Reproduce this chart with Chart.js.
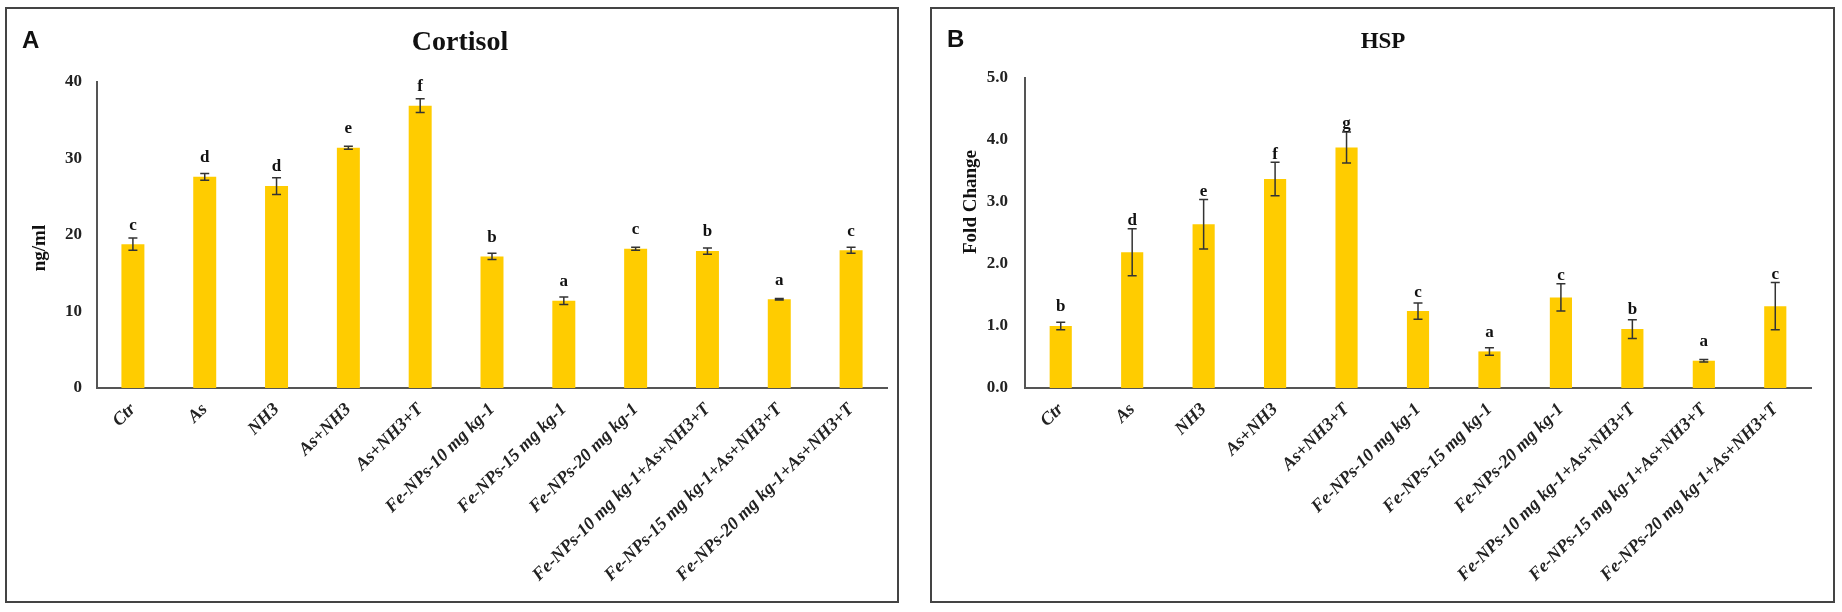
<!DOCTYPE html>
<html>
<head>
<meta charset="utf-8">
<script src="https://cdn.jsdelivr.net/npm/chart.js@4.4.1/dist/chart.umd.min.js"></script>
<style>
  body { margin: 0; background: #fff; width: 1842px; height: 612px; position: relative; overflow: hidden; }
  .panel { position: absolute; border: 2px solid #444; box-sizing: border-box; }
  .panel .wrap { position: absolute; left: 0; top: 0; right: 0; bottom: 0; }
  .tag { position: absolute; font-family: "Liberation Sans", Arial, sans-serif; font-weight: bold; font-size: 24px; color: #111; }
  .ttl { position: absolute; font-family: "Liberation Serif", "Times New Roman", serif; font-weight: bold; color: #111;
         white-space: nowrap; transform: translateX(-50%); }
  .ytl { position: absolute; font-family: "Liberation Serif", "Times New Roman", serif; font-weight: bold; font-size: 19px;
         color: #111; white-space: nowrap; line-height: 1; transform: translate(-50%, -50%) rotate(-90deg); }
</style>
</head>
<body>
<div class="panel" style="left:5px; top:7px; width:894px; height:596px;">
  <div class="wrap"><canvas id="cortisolChart"></canvas></div>
</div>
<div class="panel" style="left:930px; top:7px; width:905px; height:596px;">
  <div class="wrap"><canvas id="hspChart"></canvas></div>
</div>
<div class="tag" style="left:22px; top:26px;">A</div>
<div class="tag" style="left:947px; top:25px;">B</div>
<div class="ttl" style="left:460px; top:27px; font-size:28px; line-height:28px;">Cortisol</div>
<div class="ttl" style="left:1383px; top:29px; font-size:23px; line-height:23px;">HSP</div>
<div class="ytl" style="left:38px; top:248px;">ng/ml</div>
<div class="ytl" style="left:969px; top:202px;">Fold Change</div>

<script>
// categorias comunes a los dos paneles
const categories = [
  "Ctr", "As", "NH3", "As+NH3", "As+NH3+T",
  "Fe-NPs-10 mg kg-1", "Fe-NPs-15 mg kg-1", "Fe-NPs-20 mg kg-1",
  "Fe-NPs-10 mg kg-1+As+NH3+T", "Fe-NPs-15 mg kg-1+As+NH3+T", "Fe-NPs-20 mg kg-1+As+NH3+T"
];

// Panel A - Cortisol (ng/ml)
const cortisolMeans = [18.8, 27.6, 26.4, 31.4, 36.9, 17.2, 11.4, 18.2, 17.9, 11.6, 18.0];
const cortisolErr = [0.8, 0.45, 1.1, 0.2, 0.9, 0.4, 0.5, 0.2, 0.4, 0.1, 0.4];
const cortisolLetters = ["c", "d", "d", "e", "f", "b", "a", "c", "b", "a", "c"];

// Panel B - HSP (fold change)
const hspMeans = [1.0, 2.19, 2.64, 3.37, 3.88, 1.24, 0.59, 1.46, 0.95, 0.44, 1.32];
const hspErr = [0.06, 0.38, 0.4, 0.27, 0.25, 0.13, 0.06, 0.22, 0.15, 0.02, 0.38];
const hspLetters = ["b", "d", "e", "f", "g", "c", "a", "c", "b", "a", "c"];

const SERIF = '"Liberation Serif", "Times New Roman", serif';
const BAR = "#FFCC00";
const AXIS = "#555";

// barras de error + letras de significancia
const errorBarsPlugin = {
  id: "errorBars",
  afterDatasetsDraw(chart, args, opts) {
    const { ctx } = chart;
    const meta = chart.getDatasetMeta(0);
    const y = chart.scales.y;
    ctx.save();
    meta.data.forEach((bar, i) => {
      const v = opts.means[i];
      const e = opts.errors[i];
      const yTop = y.getPixelForValue(v + e);
      const yBot = y.getPixelForValue(v - e);
      const x = bar.x;
      ctx.strokeStyle = "#333";
      ctx.lineWidth = 1.5;
      ctx.beginPath();
      ctx.moveTo(x, yTop); ctx.lineTo(x, yBot);
      ctx.moveTo(x - 4.5, yTop); ctx.lineTo(x + 4.5, yTop);
      ctx.moveTo(x - 4.5, yBot); ctx.lineTo(x + 4.5, yBot);
      ctx.stroke();

      const barTop = y.getPixelForValue(v);
      const ly = Math.min(barTop - 19, yTop - 8);
      ctx.fillStyle = "#111";
      ctx.font = "bold 17px " + SERIF;
      ctx.textAlign = "center";
      ctx.textBaseline = "middle";
      ctx.fillText(opts.letters[i], x, ly);
    });
    ctx.restore();
  },
};

function makeChart(id, cfg) {
  return new Chart(document.getElementById(id), {
    type: "bar",
    data: {
      labels: categories,
      datasets: [{
        data: cfg.means,
        backgroundColor: BAR,
        borderWidth: 0,
        categoryPercentage: 1,
        barPercentage: cfg.barPct,
      }],
    },
    plugins: [errorBarsPlugin],
    options: {
      responsive: true,
      maintainAspectRatio: false,
      animation: false,
      devicePixelRatio: 1,
      layout: { padding: { left: 0, right: cfg.padRight, top: cfg.padTop, bottom: 0 } },
      plugins: {
        legend: { display: false },
        tooltip: { enabled: false },
        title: { display: false },
        errorBars: { means: cfg.means, errors: cfg.errors, letters: cfg.letters },
      },
      scales: {
        x: {
          grid: { display: false },
          border: { display: true, color: AXIS, width: 2 },
          ticks: {
            color: "#222",
            maxRotation: 45,
            minRotation: 45,
            autoSkip: false,
            padding: 3,
            font: { family: SERIF, size: 18, weight: "bold", style: "italic" },
          },
          afterFit(scale) { scale.height = 213; },
        },
        y: {
          min: 0,
          max: cfg.max,
          grid: { display: false, drawTicks: false, tickLength: 0 },
          border: { display: true, color: AXIS, width: 2 },
          ticks: {
            stepSize: cfg.step,
            color: "#222",
            padding: cfg.tickPad,
            font: { family: SERIF, size: 17, weight: "bold" },
            callback: cfg.fmt,
          },
          afterFit(scale) { scale.width = cfg.yWidth; },
        },
      },
    },
  });
}

makeChart("cortisolChart", {
  means: cortisolMeans, errors: cortisolErr, letters: cortisolLetters,
  max: 40, step: 10, fmt: (v) => v,
  yWidth: 90, padRight: 10, padTop: 73, tickPad: 15, barPct: 0.32,
});

makeChart("hspChart", {
  means: hspMeans, errors: hspErr, letters: hspLetters,
  max: 5, step: 1, fmt: (v) => Number(v).toFixed(1),
  yWidth: 93, padRight: 22, padTop: 69, tickPad: 17, barPct: 0.31,
});
</script>
</body>
</html>
